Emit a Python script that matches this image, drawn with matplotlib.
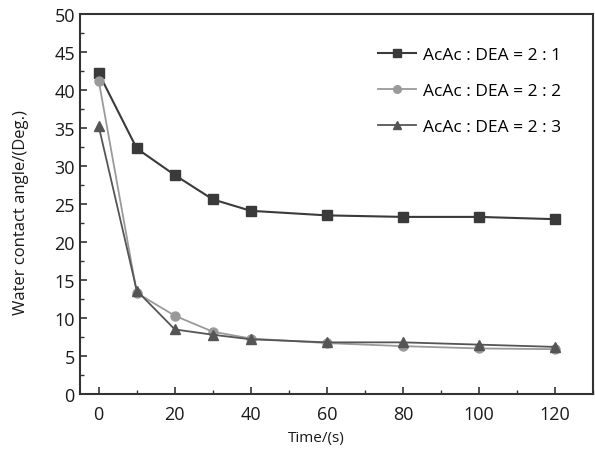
import matplotlib
matplotlib.use('Agg')
import matplotlib.pyplot as plt
from matplotlib.ticker import MultipleLocator

# data
time_s = [0, 10, 20, 30, 40, 60, 80, 100, 120]
ratio_21 = [42.2, 32.3, 28.8, 25.6, 24.1, 23.5, 23.3, 23.3, 23.0]
ratio_22 = [41.2, 13.3, 10.3, 8.2, 7.3, 6.7, 6.3, 6.0, 5.9]
ratio_23 = [35.2, 13.6, 8.5, 7.8, 7.2, 6.8, 6.8, 6.5, 6.2]
labels = ['AcAc : DEA = 2 : 1', 'AcAc : DEA = 2 : 2', 'AcAc : DEA = 2 : 3']

plt.rcParams['font.family'] = ['Open Sans', 'DejaVu Sans']

fig = plt.figure(figsize=(5.95, 4.52), dpi=100)
ax = fig.add_axes([0.134, 0.126, 0.863, 0.841])

ax.plot(time_s, ratio_21, color='#3a3a3a', marker='s', markersize=6.5, linewidth=1.5, label=labels[0])
ax.plot(time_s, ratio_22, color='#9a9a9a', marker='o', markersize=6.5, linewidth=1.3, label=labels[1])
ax.plot(time_s, ratio_23, color='#555555', marker='^', markersize=6.5, linewidth=1.3, label=labels[2])

ax.set_xlim(-5, 130)
ax.set_ylim(0, 50)
ax.xaxis.set_major_locator(MultipleLocator(20))
ax.xaxis.set_minor_locator(MultipleLocator(10))
ax.yaxis.set_major_locator(MultipleLocator(5))
ax.yaxis.set_minor_locator(MultipleLocator(2.5))
ax.tick_params(which='both', direction='in', color='#333333', labelsize=13, labelcolor='#1a1a1a')
ax.tick_params(which='major', length=5, width=1.2)
ax.tick_params(which='minor', length=3, width=1)
ax.tick_params(axis='x', pad=8)
for s in ax.spines.values():
    s.set_color('#333333')
    s.set_linewidth(1.5)

ax.set_xlabel('Time/(s)', fontsize=11, color='#1a1a1a')
ax.xaxis.set_label_coords(0.46, -0.095)
ax.set_ylabel('Water contact angle/(Deg.)', fontsize=12, color='#1a1a1a')
ax.yaxis.set_label_coords(-0.098, 0.48)

ax.legend(loc='upper left', bbox_to_anchor=(0.55, 0.955), frameon=False, fontsize=12.5,
          markerscale=0.85, handlelength=2.2, labelspacing=1.15, handletextpad=0.4)

plt.savefig('out.png', dpi=100)
